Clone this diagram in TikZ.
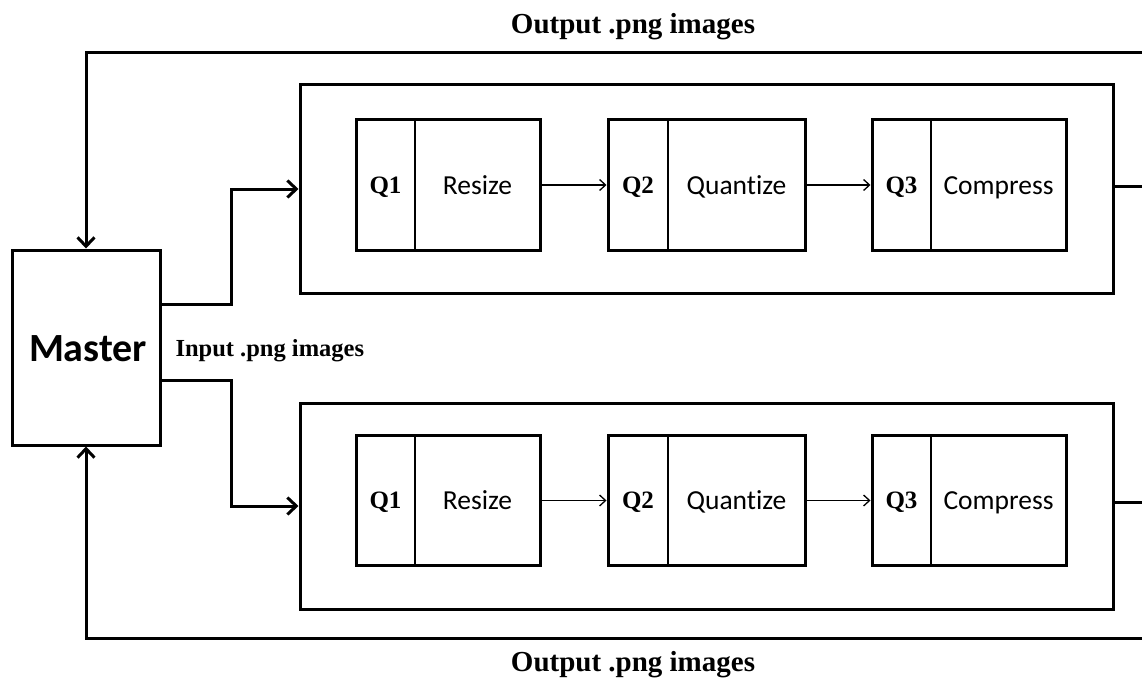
\documentclass[tikz,border=0pt]{standalone}
\usepackage{fontspec}
\setmainfont{Liberation Serif}
\setsansfont[Ligatures=NoCommon]{Carlito}
\usetikzlibrary{arrows.meta,calc}
\begin{document}
\begin{tikzpicture}[x=1pt,y=-1pt,
  thickline/.style={line width=3pt},
  thinline/.style={line width=1.3pt},
  bigtip/.style={-{Straight Barb[length=9pt,width=17pt,line width=3pt]}},
  smalltip/.style={-{Straight Barb[length=6pt,width=11pt,line width=1.3pt]}},
  box/.style={draw,thickline,rectangle,inner sep=0pt},
  qbox/.style={box,minimum height=130pt},
  qlab/.style={font=\bfseries\fontsize{25}{29}\selectfont,text height=16pt,text depth=4pt,inner sep=0pt},
  oplab/.style={font=\sffamily\fontsize{27.5}{32}\selectfont,text height=17pt,text depth=3pt,inner sep=0pt},
  caption/.style={font=\bfseries\fontsize{29}{33}\selectfont}
]
\useasboundingbox (0,0) rectangle (1142,682);

% master node
\node[box,minimum width=148pt,minimum height=195pt] (master) at (86,347.5) {};
\node[font=\sffamily\bfseries\fontsize{40}{46}\selectfont] (mlab) at (88,349) {Master};

% the two pipeline containers
\node[box,minimum width=813pt,minimum height=208pt] (top) at (706.5,189) {};
\node[box,minimum width=813pt,minimum height=206pt] (bot) at (706.5,506) {};

% queue stages: box, divider and labels
\foreach \row/\y in {a/185, b/500.5}{
  \foreach \n/\cx/\w/\dx/\op in {1/448/184/415/Resize, 2/706.5/197/668/Quantize, 3/969/194/931/Compress}{
    \node[qbox,minimum width=\w pt] (\row\n) at (\cx,\y) {};
    \draw[thinline] (\dx,\y) ++(0,-65) -- ++(0,130);
    \pgfmathsetmacro{\ql}{(\cx-\w/2+\dx)/2}
    \pgfmathsetmacro{\ol}{(\dx+\cx+\w/2)/2}
    \node[qlab] (\row\n q) at (\ql,\y+2) {Q\n};
    \node[oplab] (\row\n op) at (\ol,\y+2) {\op};
  }
  \draw[thinline,smalltip] (\row1.east) -- (\row2.west);
  \draw[thinline,smalltip] (\row2.east) -- (\row3.west);
}

% input distribution
\draw[thickline,bigtip] ($(master.east)+(0,-43.5)$) -- ++(70,0) |- (top.west);
\draw[thickline,bigtip] ($(master.east)+(0,32.5)$) -- ++(70,0) |- (bot.west);
\node[caption,font=\bfseries\fontsize{24.5}{28}\selectfont,anchor=west] (inlab) at (172,351) {Input .png images};

% output feedback loops
\coordinate (tr) at (1146,53);
\coordinate (br) at (1146,638);
\coordinate (te) at (1146,186);
\coordinate (be) at (1146,502);
\draw[thickline] (top.east |- te) -- (te);
\draw[thickline] (bot.east |- be) -- (be);
\draw[thickline,bigtip] (tr) -| (master.north);
\draw[thickline,bigtip] (br) -| (master.south);
\node[caption] (outtop) at (633,27) {Output .png images};
\node[caption] (outbot) at (633,665) {Output .png images};
\end{tikzpicture}
\end{document}
